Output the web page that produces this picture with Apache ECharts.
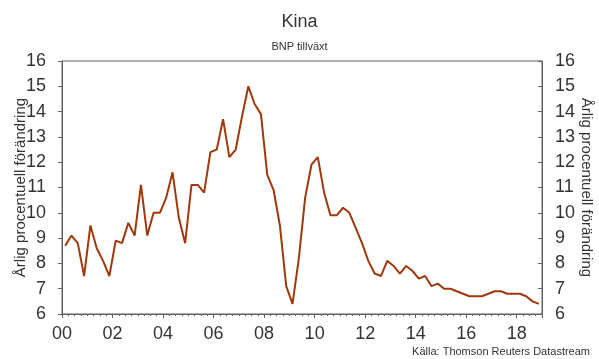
<!DOCTYPE html>
<html>
<head>
<meta charset="utf-8">
<script src="https://cdn.jsdelivr.net/npm/echarts@6/dist/echarts.min.js"></script>
<style>
  html, body { margin: 0; padding: 0; background: #fff; }
  #chart { width: 599px; height: 359px; }
</style>
</head>
<body>
<div id="chart"></div>
<script>
// kvartalsdata 2000K1 - 2018K4, årlig förändring i procent
const startYear = 2000;
const gdpGrowth = [
  8.7, 9.1, 8.8, 7.5,   // 2000
  9.5, 8.6, 8.1, 7.5,   // 2001
  8.9, 8.8, 9.6, 9.1,   // 2002
  11.1, 9.1, 10.0, 10.0, // 2003
  10.6, 11.6, 9.8, 8.8, // 2004
  11.1, 11.1, 10.8, 12.4, // 2005
  12.5, 13.7, 12.2, 12.5, // 2006
  13.8, 15.0, 14.3, 13.9, // 2007
  11.5, 10.9, 9.5, 7.1, // 2008
  6.4, 8.2, 10.6, 11.9, // 2009
  12.2, 10.8, 9.9, 9.9, // 2010
  10.2, 10.0, 9.4, 8.8, // 2011
  8.1, 7.6, 7.5, 8.1,   // 2012
  7.9, 7.6, 7.9, 7.7,   // 2013
  7.4, 7.5, 7.1, 7.2,   // 2014
  7.0, 7.0, 6.9, 6.8,   // 2015
  6.7, 6.7, 6.7, 6.8,   // 2016
  6.9, 6.9, 6.8, 6.8,   // 2017
  6.8, 6.7, 6.5, 6.4    // 2018
];
const yTicks = [6, 16];
const xRange = [2000, 2019];

const font = "'Liberation Sans', Arial, sans-serif";
const axisGray = "#606060";
const textGray = "#333";

// varje kvartal placeras mitt i sitt kvartal på tidsaxeln
const points = gdpGrowth.map((v, i) => [startYear + (i + 0.5) / 4, v]);

const yAxisBase = {
  type: "value",
  min: yTicks[0],
  max: yTicks[1],
  interval: 1,
  name: "Årlig procentuell förändring",
  nameLocation: "middle",
  nameMoveOverlap: false,
  nameTextStyle: { fontFamily: font, fontSize: 15, color: textGray },
  axisLine: { show: true, lineStyle: { color: axisGray, width: 1 } },
  axisTick: { show: true, length: 4, lineStyle: { color: axisGray } },
  splitLine: { show: false },
  axisLabel: { fontFamily: font, fontSize: 18, color: textGray }
};

const chart = echarts.init(document.getElementById("chart"), null, { renderer: "canvas" });
chart.setOption({
  animation: false,
  backgroundColor: "#fff",
  title: {
    text: "Kina",
    subtext: "BNP tillväxt",
    left: "center",
    top: 8,
    itemGap: 10,
    textStyle: { fontFamily: font, fontSize: 18, fontWeight: "normal", color: textGray },
    subtextStyle: { fontFamily: font, fontSize: 11, color: textGray }
  },
  grid: {
    left: 62, right: 57, top: 61, bottom: 45,
    outerBoundsMode: "none",
    containLabel: false,
    show: true, borderColor: axisGray, borderWidth: 1, backgroundColor: "transparent"
  },
  xAxis: {
    type: "value",
    min: xRange[0],
    max: xRange[1],
    interval: 2,
    axisLine: { show: true, onZero: false, lineStyle: { color: axisGray, width: 1 } },
    axisTick: { show: true, length: 4, lineStyle: { color: axisGray } },
    minorTick: { show: true, splitNumber: 8, length: 2, lineStyle: { color: axisGray } },
    splitLine: { show: false },
    axisLabel: {
      fontFamily: font, fontSize: 18, color: textGray, margin: 11,
      showMaxLabel: false,
      formatter: v => String(v % 100).padStart(2, "0")
    }
  },
  yAxis: [
    Object.assign({}, yAxisBase, {
      position: "left",
      nameRotate: 90,
      nameGap: 34,
      axisLabel: Object.assign({}, yAxisBase.axisLabel, { margin: 16 })
    }),
    Object.assign({}, yAxisBase, {
      position: "right",
      nameRotate: -90,
      nameGap: 37,
      axisTick: { show: true, inside: true, length: 4, lineStyle: { color: axisGray } },
      axisLabel: Object.assign({}, yAxisBase.axisLabel, { margin: 13 })
    })
  ],
  series: [{
    name: "BNP tillväxt",
    type: "line",
    yAxisIndex: 0,
    data: points,
    symbol: "none",
    lineStyle: { color: "#a0380c", width: 2 },
    itemStyle: { color: "#a0380c" }
  }],
  graphic: [{
    type: "text",
    right: 9,
    bottom: 2,
    style: { text: "Källa: Thomson Reuters Datastream", fontFamily: font, fontSize: 11, fill: textGray }
  }]
});
</script>
</body>
</html>
